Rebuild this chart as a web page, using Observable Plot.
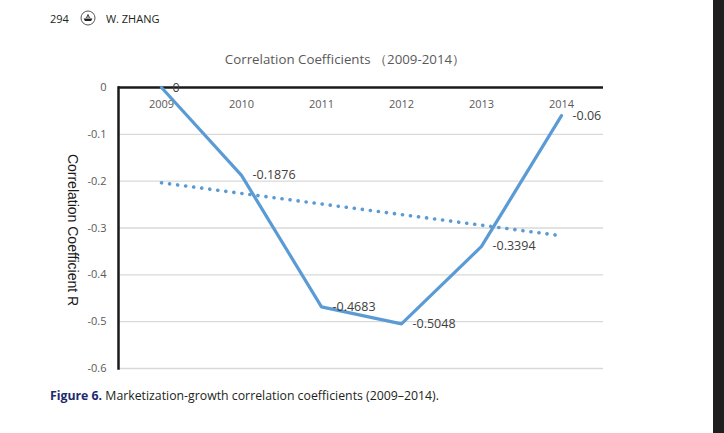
<!DOCTYPE html>
<html>
<head>
<meta charset="utf-8">
<script src="https://cdn.jsdelivr.net/npm/d3@7"></script>
<script src="https://cdn.jsdelivr.net/npm/@observablehq/plot@0.6"></script>
<style>
  html, body { margin: 0; padding: 0; background: #fff; }
  #page { position: relative; width: 724px; height: 433px; overflow: hidden; }
  #header { position: absolute; left: 50px; top: 10px; font-family: "Open Sans", sans-serif; font-size: 11px; color: #231f20; display: flex; align-items: center; }
  #header svg { margin: 0 10px 0 11px; }
  #title { position: absolute; left: 0; width: 690px; top: 50px; text-align: center; font-family: "Open Sans", sans-serif; font-size: 13.3px; color: #595959; }
  #chart { position: absolute; left: 0; top: 70px; }
  #caption { position: absolute; left: 50px; top: 387px; font-family: "Open Sans", sans-serif; font-size: 12.3px; color: #231f20; }
  #caption b { color: #1c2a6e; font-weight: 700; }
  #strip { position: absolute; left: 713px; top: 0; width: 11px; height: 433px; background: #1e1e1e; }
</style>
</head>
<body>
<div id="page">
  <div id="header"><span>294</span>
    <svg width="16" height="16" viewBox="0 0 16 16"><circle cx="8" cy="8" r="7" fill="#fff" stroke="#555" stroke-width="1"/><path d="M3.5 8.5 h9 l-1.5 2.5 h-6 z" fill="#222"/><path d="M8 4 v4 M6 8 l2-3 l2 3" stroke="#222" stroke-width="0.8" fill="none"/></svg>
    <span>W. ZHANG</span></div>
  <div id="title">Correlation Coefficients （2009-2014）</div>
  <div id="chart"></div>
  <div id="caption"><b>Figure 6.</b> Marketization-growth correlation coefficients (2009–2014).</div>
  <div id="strip"></div>
</div>
<script>
const years = ["2009", "2010", "2011", "2012", "2013", "2014"];
const values = [0, -0.1876, -0.4683, -0.5048, -0.3394, -0.06];
const valueLabels = ["0", "-0.1876", "-0.4683", "-0.5048", "-0.3394", "-0.06"];
const trendYears = ["2009", "2014"];
const trendValues = [-0.2035, -0.3166];
const yTicks = [0, -0.1, -0.2, -0.3, -0.4, -0.5, -0.6];
const yTickLabels = ["0", "-0.1", "-0.2", "-0.3", "-0.4", "-0.5", "-0.6"];
const yLabel = "Correlation Coefficient R";

const data = years.map((y, i) => ({year: y, value: values[i], label: valueLabels[i]}));
const trend = trendYears.map((y, i) => ({year: y, value: trendValues[i]}));
const blue = "#5b9bd5";

const chart = Plot.plot({
  width: 724,
  height: 310,
  marginLeft: 118,
  marginRight: 121,
  marginTop: 17,
  marginBottom: 12,
  style: {fontFamily: "'Open Sans', sans-serif", background: "transparent", overflow: "visible"},
  x: {type: "point", domain: years, padding: 0.5, axis: null},
  y: {domain: [-0.6, 0], axis: null},
  marks: [
    Plot.gridY(yTicks.filter(d => d !== 0), {stroke: "#d9d9d9", strokeOpacity: 1, strokeWidth: 1.3}),
    Plot.axisY({ticks: yTicks, tickSize: 0, tickPadding: 12, tickFormat: d => yTickLabels[yTicks.indexOf(d)], fontSize: 11, color: "#595959", label: null}),
    Plot.ruleY([0], {stroke: "#1a1a1a", strokeWidth: 2.5}),
    Plot.frame({anchor: "left", stroke: "#1a1a1a", strokeWidth: 2.5}),
    Plot.text(years, {x: d => d, frameAnchor: "top", dy: 13, fontSize: 11, fill: "#595959"}),
    Plot.text([yLabel], {frameAnchor: "left", textAnchor: "middle", dx: -46, dy: 2, rotate: 90, fontSize: 14, fill: "#1a1a1a", fontFamily: "'Liberation Sans', Arial, sans-serif"}),
    Plot.line(trend, {x: "year", y: "value", stroke: blue, strokeWidth: 3.6, strokeDasharray: "0.1 8", strokeLinecap: "round"}),
    Plot.line(data, {x: "year", y: "value", stroke: blue, strokeWidth: 3.2, strokeLinejoin: "round"}),
    Plot.text(data, {x: "year", y: "value", text: "label", textAnchor: "start", dx: 11, dy: 0, fontSize: 12.5, fill: "#404040"})
  ]
});
document.getElementById("chart").appendChild(chart);
</script>
</body>
</html>
